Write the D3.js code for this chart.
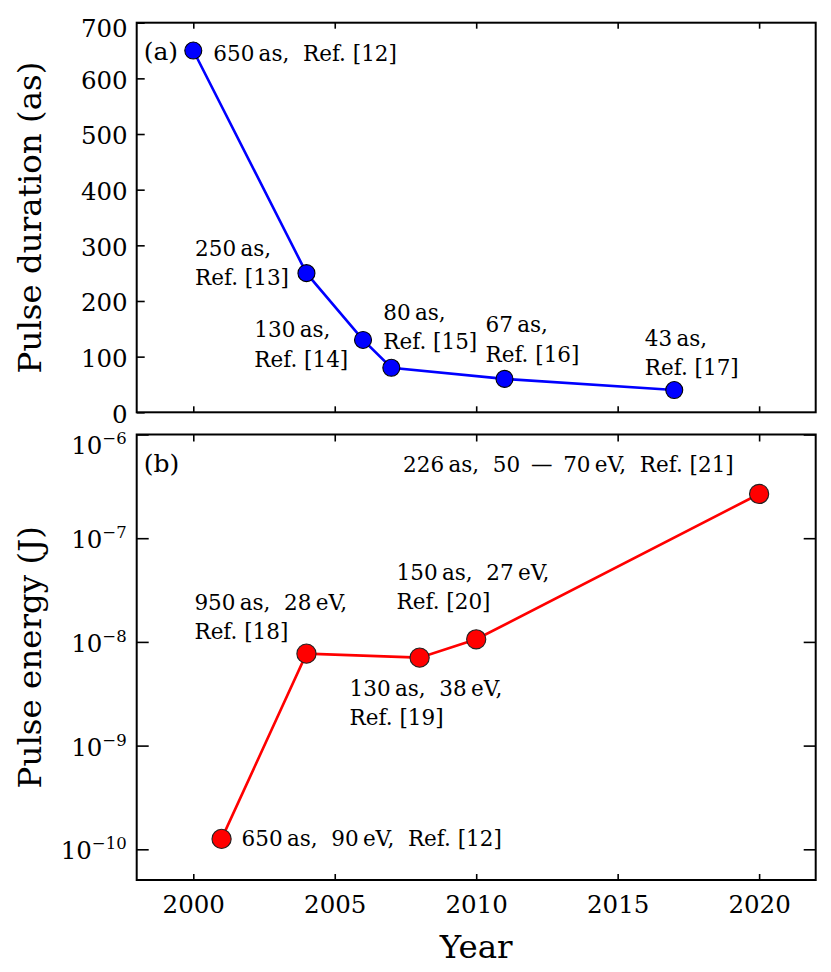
<!DOCTYPE html>
<html>
<head>
<meta charset="utf-8">
<script src="https://cdn.jsdelivr.net/npm/d3@7"></script>
<style>
  html, body { margin: 0; padding: 0; background: #fff; }
  svg { display: block; }
  text { font-family: "DejaVu Serif", serif; fill: #000; }
</style>
</head>
<body>
<svg id="chart" width="831" height="972"></svg>
<script>
// ---------------- data ----------------
const xTicks = [2000, 2005, 2010, 2015, 2020];
const durationTicks = [0, 100, 200, 300, 400, 500, 600, 700];
const energyTickExponents = [-10, -9, -8, -7, -6];

const durationYears = [2000, 2004, 2006, 2007, 2011, 2017];
const durationValues = [650, 250, 130, 80, 60, 40];
const durationLabels = [
  ["650\u2009as,  Ref. [12]"],
  ["250\u2009as,", "Ref. [13]"],
  ["130\u2009as,", "Ref. [14]"],
  ["80\u2009as,", "Ref. [15]"],
  ["67\u2009as,", "Ref. [16]"],
  ["43\u2009as,", "Ref. [17]"]
];

const energyYears = [2001, 2004, 2008, 2010, 2020];
const energyValues = [1.26e-10, 7.7e-9, 7.05e-9, 1.06e-8, 2.67e-7];
const energyLabels = [
  ["650\u2009as,  90\u2009eV,  Ref. [12]"],
  ["950\u2009as,  28\u2009eV,", "Ref. [18]"],
  ["130\u2009as,  38\u2009eV,", "Ref. [19]"],
  ["150\u2009as,  27\u2009eV,", "Ref. [20]"],
  ["226\u2009as,  50\u2002\u2014\u200270\u2009eV,  Ref. [21]"]
];

// ---------------- layout ----------------
const FONT = "DejaVu Serif";
const L = 136.7, R = 815.7;
const topPanel = { top: 22.7, bottom: 412.3 };
const botPanel = { top: 434.5, bottom: 880 };

// label placement relative to marker centre: [dx, dy of first baseline, anchor]
const durationLabelOffsets = [[20, 10.5, "start"], [-111.4, -17, "start"], [-108.7, -2.6, "start"], [-8, -47.7, "start"], [-19, -46.7, "start"], [-29.4, -44.3, "start"]];
const energyLabelOffsets = [[20, 6.7, "start"], [-112, -43.7, "start"], [-70, 38.3, "start"], [-79.6, -59.3, "start"], [-356, -22.3, "start"]];

const LINE_H = 29.3;
const TICK_FS = 24.5, LAB_FS = 21.5, TITLE_FS = 32.5;

const svg = d3.select("#chart");

const x = d3.scaleLinear().domain([1998, 2022]).range([L, R]);
const yTop = d3.scaleLinear().domain([0, 700]).range([topPanel.bottom, topPanel.top]);
const yBot = d3.scaleLog().domain([Math.pow(10, -10.296), 1e-6]).range([botPanel.bottom, botPanel.top]);

function styleAxis(g) {
  g.select(".domain").remove();
  g.selectAll(".tick line").attr("stroke", "#000").attr("stroke-width", 1.6);
  g.selectAll(".tick text").attr("font-size", TICK_FS).attr("font-family", FONT).attr("fill", "#000");
}

function addLabels(g, data, yScale) {
  const txt = g.selectAll("text.lab").data(data).join("text")
    .attr("class", "lab").attr("font-size", LAB_FS)
    .attr("text-anchor", d => d.off[2])
    .attr("x", d => x(d.x) + d.off[0]).attr("y", d => yScale(d.y) + d.off[1]);
  txt.each(function (d) {
    const t = d3.select(this);
    d.lab.forEach((line, j) => {
      t.append("tspan").attr("x", x(d.x) + d.off[0]).attr("dy", j === 0 ? 0 : LINE_H)
        .attr("xml:space", "preserve").text(line);
    });
  });
}

// ---------- top panel ----------
const gTop = svg.append("g");
gTop.append("g").attr("transform", `translate(${L},0)`)
  .call(d3.axisLeft(yTop).tickValues(durationTicks).tickSize(-8).tickPadding(9).tickFormat(d3.format("d")))
  .call(styleAxis)
  .call(g => g.selectAll(".tick text").attr("dy", (d) => d === 700 ? "0.55em" : "0.4em"));
gTop.append("g").attr("transform", `translate(0,${topPanel.bottom})`)
  .call(d3.axisBottom(x).tickValues(xTicks).tickSize(-6).tickFormat(""))
  .call(styleAxis);
gTop.append("g").attr("transform", `translate(0,${topPanel.top})`)
  .call(d3.axisTop(x).tickValues(xTicks).tickSize(-6).tickFormat(""))
  .call(styleAxis);

const durData = durationYears.map((yr, i) => ({ x: yr, y: durationValues[i], lab: durationLabels[i], off: durationLabelOffsets[i] }));
gTop.append("path").datum(durData)
  .attr("fill", "none").attr("stroke", "#0000ff").attr("stroke-width", 2.6)
  .attr("d", d3.line().x(d => x(d.x)).y(d => yTop(d.y)));
gTop.selectAll("circle.dur").data(durData).join("circle")
  .attr("class", "dur")
  .attr("cx", d => x(d.x)).attr("cy", d => yTop(d.y)).attr("r", 8.5)
  .attr("fill", "#0000ff").attr("stroke", "#000").attr("stroke-width", 1.1);
addLabels(gTop, durData, yTop);
gTop.append("rect").attr("x", L).attr("y", topPanel.top).attr("width", R - L).attr("height", topPanel.bottom - topPanel.top)
  .attr("fill", "none").attr("stroke", "#000").attr("stroke-width", 2);
gTop.append("text").attr("x", L + 7).attr("y", 60).attr("font-size", 25).text("(a)");

// ---------- bottom panel ----------
const gBot = svg.append("g");
const energyTicks = energyTickExponents.map(e => Math.pow(10, e));
const leftAx = gBot.append("g").attr("transform", `translate(${L},0)`)
  .call(d3.axisLeft(yBot).tickValues(energyTicks).tickSize(-12).tickPadding(10).tickFormat(""))
  .call(styleAxis);
leftAx.selectAll(".tick").each(function (d) {
  const e = Math.round(Math.log10(d));
  const t = d3.select(this).append("text")
    .attr("x", -10).attr("y", e === -6 ? 18.5 : 9.5)
    .attr("text-anchor", "end").attr("font-size", TICK_FS);
  t.append("tspan").text("10");
  t.append("tspan").attr("dy", -10).attr("font-size", 16.5).text("\u2212" + Math.abs(e));
});
gBot.append("g").attr("transform", `translate(${R},0)`)
  .call(d3.axisRight(yBot).tickValues(energyTicks).tickSize(-12).tickFormat(""))
  .call(styleAxis);
gBot.append("g").attr("transform", `translate(0,${botPanel.top})`)
  .call(d3.axisTop(x).tickValues(xTicks).tickSize(-7).tickFormat(""))
  .call(styleAxis);
gBot.append("g").attr("transform", `translate(0,${botPanel.bottom})`)
  .call(d3.axisBottom(x).tickValues(xTicks).tickSize(-6).tickPadding(14).tickFormat(d3.format("d")))
  .call(styleAxis)
  .call(g => g.selectAll(".tick text").attr("y", 33).attr("dy", 0));

const enData = energyYears.map((yr, i) => ({ x: yr, y: energyValues[i], lab: energyLabels[i], off: energyLabelOffsets[i] }));
gBot.append("path").datum(enData)
  .attr("fill", "none").attr("stroke", "#ff0000").attr("stroke-width", 2.6)
  .attr("d", d3.line().x(d => x(d.x)).y(d => yBot(d.y)));
gBot.selectAll("circle.en").data(enData).join("circle")
  .attr("class", "en")
  .attr("cx", d => x(d.x)).attr("cy", d => yBot(d.y)).attr("r", 9.6)
  .attr("fill", "#ff0000").attr("stroke", "#222").attr("stroke-width", 1.1);
addLabels(gBot, enData, yBot);
gBot.append("rect").attr("x", L).attr("y", botPanel.top).attr("width", R - L).attr("height", botPanel.bottom - botPanel.top)
  .attr("fill", "none").attr("stroke", "#000").attr("stroke-width", 2);
gBot.append("text").attr("x", L + 7).attr("y", 471.5).attr("font-size", 25).text("(b)");

// ---------- axis titles ----------
svg.append("text").attr("transform", `translate(41,${(topPanel.top + topPanel.bottom) / 2}) rotate(-90)`)
  .attr("text-anchor", "middle").attr("font-size", TITLE_FS).text("Pulse duration (as)");
svg.append("text").attr("transform", `translate(41,${(botPanel.top + botPanel.bottom) / 2}) rotate(-90)`)
  .attr("text-anchor", "middle").attr("font-size", TITLE_FS).text("Pulse energy (J)");
svg.append("text").attr("x", (L + R) / 2).attr("y", 958).attr("text-anchor", "middle").attr("font-size", TITLE_FS).text("Year");
</script>
</body>
</html>
